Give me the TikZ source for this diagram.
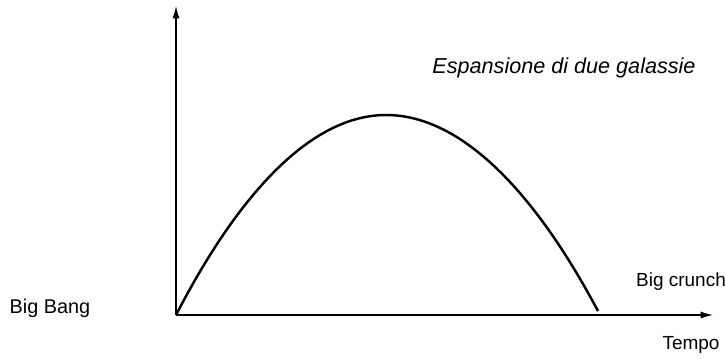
\documentclass[tikz,border=0pt]{standalone}
\usepackage{fontspec}
\setmainfont{Liberation Sans}
\usetikzlibrary{arrows.meta}

\begin{document}
\begin{tikzpicture}[
        x=0.02cm, y=-0.02cm,
        axis/.style={-{Latex[length=7pt, width=4pt]}, line width=0.7pt},
        curve/.style={line width=1.4pt},
        label/.style={font=\fontsize{10.8}{12}\selectfont, inner sep=0pt}
    ]
        \useasboundingbox (0,0) rectangle (726,358);

        % Axes
        \coordinate (o) at (176,315);
        \coordinate (ytop) at (176,6);
        \coordinate (xend) at (713,315);
        \draw[axis] (o) -- (ytop);
        \draw[axis] (o) -- (xend);

        % Expansion curve
        \coordinate (peak) at (386,115);
        \coordinate (crunch) at (598,311);
        \draw[curve] (o) parabola bend (peak) (crunch);

        % Labels
        \node[label, font=\fontsize{11.3}{13}\selectfont] (bang) at (50,308) {Big Bang};
        \node[label] (crunchtxt) at (681,282) {Big crunch};
        \node[label] (tempo) at (691,345) {Tempo};
        \node[label, font=\fontsize{12.3}{14}\selectfont\itshape] (titolo) at (564,68) {Espansione di due galassie};
    \end{tikzpicture}
\end{document}
